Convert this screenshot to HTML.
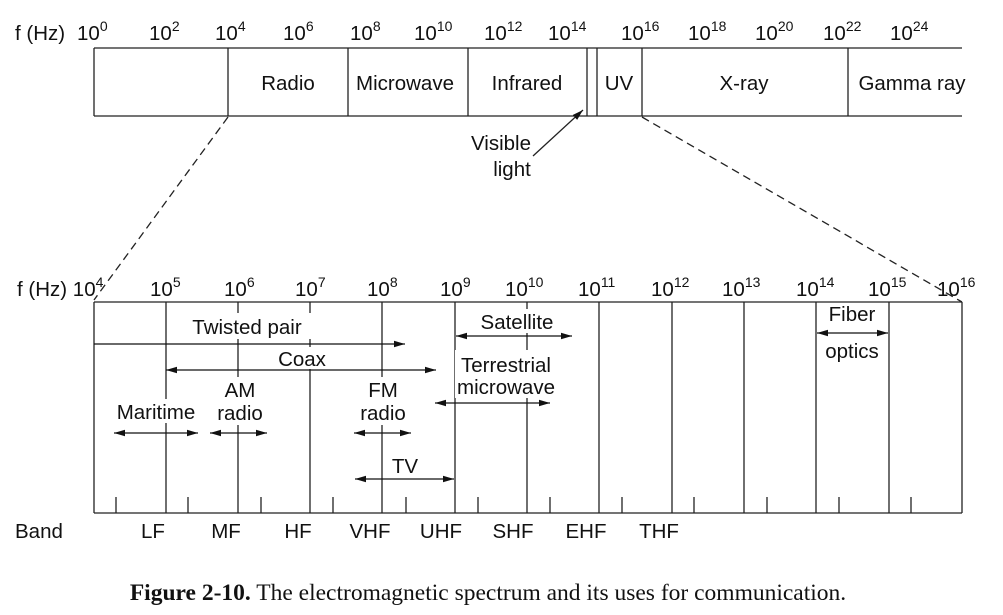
<!DOCTYPE html>
<html><head><meta charset="utf-8"><style>
body{margin:0;background:#fff}
svg{display:block}
text{font-family:"Liberation Sans",sans-serif;font-size:20.5px;fill:#111}
.s{font-size:14px}
</style></head><body>
<svg width="1003" height="615" viewBox="0 0 1003 615" xmlns="http://www.w3.org/2000/svg">
<defs>
<marker id="a" viewBox="0 0 10 6" refX="10" refY="3" markerWidth="11" markerHeight="7" orient="auto-start-reverse" markerUnits="userSpaceOnUse"><path d="M0,0L10,3L0,6Z" fill="#111"/></marker>
</defs>
<g stroke="#222" stroke-width="1.3" fill="none">
<line x1="94" y1="48" x2="962" y2="48"/>
<line x1="94" y1="116" x2="962" y2="116"/>
<line x1="94" y1="48" x2="94" y2="116"/>
<line x1="228" y1="48" x2="228" y2="116"/>
<line x1="348" y1="48" x2="348" y2="116"/>
<line x1="468" y1="48" x2="468" y2="116"/>
<line x1="587" y1="48" x2="587" y2="116"/>
<line x1="597" y1="48" x2="597" y2="116"/>
<line x1="642" y1="48" x2="642" y2="116"/>
<line x1="848" y1="48" x2="848" y2="116"/>
<line x1="228" y1="117" x2="94" y2="300" stroke-dasharray="8,5"/>
<line x1="642" y1="117" x2="962" y2="302" stroke-dasharray="8,5"/>
<line x1="533" y1="156" x2="583" y2="110" marker-end="url(#a)"/>
<line x1="94" y1="302" x2="962" y2="302"/>
<line x1="94" y1="513" x2="962" y2="513"/>
<line x1="94" y1="302" x2="94" y2="513"/>
<line x1="166" y1="302" x2="166" y2="513"/>
<line x1="238" y1="302" x2="238" y2="513"/>
<line x1="310" y1="302" x2="310" y2="513"/>
<line x1="382" y1="302" x2="382" y2="513"/>
<line x1="455" y1="302" x2="455" y2="513"/>
<line x1="527" y1="302" x2="527" y2="513"/>
<line x1="599" y1="302" x2="599" y2="513"/>
<line x1="672" y1="302" x2="672" y2="513"/>
<line x1="744" y1="302" x2="744" y2="513"/>
<line x1="816" y1="302" x2="816" y2="513"/>
<line x1="889" y1="302" x2="889" y2="513"/>
<line x1="962" y1="302" x2="962" y2="513"/>
<path d="M116,497V513M188,497V513M261,497V513M333,497V513M406,497V513M478,497V513M550,497V513M622,497V513M694,497V513M767,497V513M839,497V513M911,497V513"/>
</g>
<g fill="#fff">
<rect x="172" y="313" width="150" height="26"/>
<rect x="274" y="347" width="58" height="22"/>
<rect x="474" y="309" width="86" height="24"/>
<rect x="455" y="350" width="103" height="48"/>
<rect x="112" y="399" width="90" height="24"/>
<rect x="212" y="377" width="56" height="48"/>
<rect x="354" y="377" width="58" height="48"/>
<rect x="390" y="453" width="32" height="23"/>
<rect x="818" y="303" width="68" height="24"/>
<rect x="818" y="338" width="68" height="24"/>
</g>
<g stroke="#111" stroke-width="1.3">
<line x1="94" y1="344" x2="405" y2="344" marker-end="url(#a)"/>
<line x1="166" y1="370" x2="436" y2="370" marker-start="url(#a)" marker-end="url(#a)"/>
<line x1="456" y1="336" x2="572" y2="336" marker-start="url(#a)" marker-end="url(#a)"/>
<line x1="435" y1="403" x2="550" y2="403" marker-start="url(#a)" marker-end="url(#a)"/>
<line x1="114" y1="433" x2="198" y2="433" marker-start="url(#a)" marker-end="url(#a)"/>
<line x1="210" y1="433" x2="267" y2="433" marker-start="url(#a)" marker-end="url(#a)"/>
<line x1="354" y1="433" x2="411" y2="433" marker-start="url(#a)" marker-end="url(#a)"/>
<line x1="355" y1="479" x2="454" y2="479" marker-start="url(#a)" marker-end="url(#a)"/>
<line x1="817" y1="333" x2="888" y2="333" marker-start="url(#a)" marker-end="url(#a)"/>
</g>
<text x="15" y="40">f (Hz)</text>
<text x="77" y="40">10<tspan class="s" dy="-9">0</tspan></text>
<text x="149" y="40">10<tspan class="s" dy="-9">2</tspan></text>
<text x="215" y="40">10<tspan class="s" dy="-9">4</tspan></text>
<text x="283" y="40">10<tspan class="s" dy="-9">6</tspan></text>
<text x="350" y="40">10<tspan class="s" dy="-9">8</tspan></text>
<text x="414" y="40">10<tspan class="s" dy="-9">10</tspan></text>
<text x="484" y="40">10<tspan class="s" dy="-9">12</tspan></text>
<text x="548" y="40">10<tspan class="s" dy="-9">14</tspan></text>
<text x="621" y="40">10<tspan class="s" dy="-9">16</tspan></text>
<text x="688" y="40">10<tspan class="s" dy="-9">18</tspan></text>
<text x="755" y="40">10<tspan class="s" dy="-9">20</tspan></text>
<text x="823" y="40">10<tspan class="s" dy="-9">22</tspan></text>
<text x="890" y="40">10<tspan class="s" dy="-9">24</tspan></text>
<g text-anchor="middle">
<text x="288" y="90">Radio</text>
<text x="405" y="90">Microwave</text>
<text x="527" y="90">Infrared</text>
<text x="619" y="90">UV</text>
<text x="744" y="90">X-ray</text>
<text x="912" y="90">Gamma ray</text>
<text x="501" y="150">Visible</text>
<text x="512" y="176">light</text>
</g>
<text x="17" y="296">f (Hz) 10<tspan class="s" dy="-9">4</tspan></text>
<text x="150" y="296">10<tspan class="s" dy="-9">5</tspan></text>
<text x="224" y="296">10<tspan class="s" dy="-9">6</tspan></text>
<text x="295" y="296">10<tspan class="s" dy="-9">7</tspan></text>
<text x="367" y="296">10<tspan class="s" dy="-9">8</tspan></text>
<text x="440" y="296">10<tspan class="s" dy="-9">9</tspan></text>
<text x="505" y="296">10<tspan class="s" dy="-9">10</tspan></text>
<text x="578" y="296">10<tspan class="s" dy="-9">11</tspan></text>
<text x="651" y="296">10<tspan class="s" dy="-9">12</tspan></text>
<text x="722" y="296">10<tspan class="s" dy="-9">13</tspan></text>
<text x="796" y="296">10<tspan class="s" dy="-9">14</tspan></text>
<text x="868" y="296">10<tspan class="s" dy="-9">15</tspan></text>
<text x="937" y="296">10<tspan class="s" dy="-9">16</tspan></text>
<g text-anchor="middle">
<text x="247" y="334">Twisted pair</text>
<text x="302" y="366">Coax</text>
<text x="517" y="329">Satellite</text>
<text x="506" y="372">Terrestrial</text>
<text x="506" y="394">microwave</text>
<text x="156" y="419">Maritime</text>
<text x="240" y="397">AM</text>
<text x="240" y="420">radio</text>
<text x="383" y="397">FM</text>
<text x="383" y="420">radio</text>
<text x="405" y="473">TV</text>
<text x="852" y="321">Fiber</text>
<text x="852" y="358">optics</text>
<text x="153" y="538">LF</text>
<text x="226" y="538">MF</text>
<text x="298" y="538">HF</text>
<text x="370" y="538">VHF</text>
<text x="441" y="538">UHF</text>
<text x="513" y="538">SHF</text>
<text x="586" y="538">EHF</text>
<text x="659" y="538">THF</text>
</g>
<text x="15" y="538">Band</text>
<text x="488" y="600" text-anchor="middle" style="font-family:'Liberation Serif',serif;font-size:23.5px"><tspan font-weight="bold">Figure 2-10.</tspan>  The electromagnetic spectrum and its uses for communication.</text>
</svg>
</body></html>
